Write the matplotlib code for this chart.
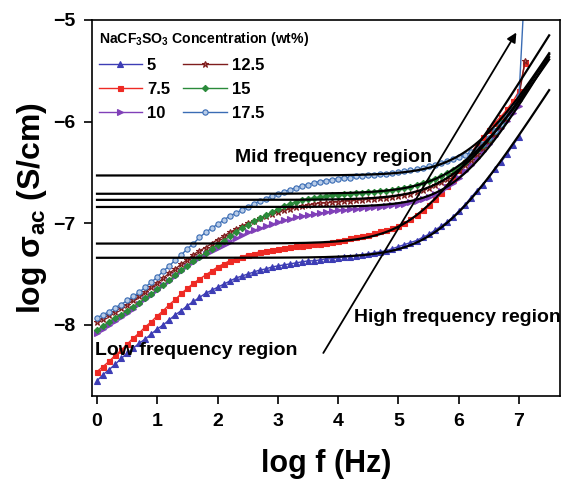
import numpy as np
import matplotlib
matplotlib.use('Agg')
import matplotlib.pyplot as plt

plt.rcParams['font.family'] = ['Liberation Sans', 'DejaVu Sans']
plt.rcParams['font.weight'] = 'bold'
plt.rcParams['mathtext.fontset'] = 'custom'
plt.rcParams['mathtext.rm'] = 'Liberation Sans:bold'
plt.rcParams['mathtext.it'] = 'Liberation Sans:bold'
plt.rcParams['mathtext.bf'] = 'Liberation Sans:bold'
plt.rcParams['mathtext.default'] = 'rm'

# measured frequencies, log f (Hz)
log_f = np.round(np.arange(0, 7.15, 0.1), 1)

# log sigma_ac (S/cm) for each salt concentration
s_5 = [-8.55, -8.49, -8.44, -8.39, -8.33, -8.28, -8.23, -8.18, -8.14, -8.09,
       -8.04, -8.00, -7.95, -7.90, -7.86, -7.81, -7.77, -7.73, -7.69, -7.66,
       -7.63, -7.60, -7.57, -7.54, -7.52, -7.50, -7.48, -7.46, -7.45, -7.43,
       -7.42, -7.41, -7.40, -7.39, -7.38, -7.37, -7.37, -7.36, -7.35, -7.35,
       -7.34, -7.33, -7.33, -7.32, -7.31, -7.30, -7.29, -7.28, -7.27, -7.25,
       -7.23, -7.21, -7.19, -7.17, -7.14, -7.11, -7.07, -7.03, -6.99, -6.94,
       -6.88, -6.82, -6.75, -6.68, -6.62, -6.55, -6.47, -6.40, -6.32, -6.23,
       -6.15]
s_7_5 = [-8.46, -8.41, -8.36, -8.30, -8.25, -8.19, -8.13, -8.08, -8.02, -7.97,
         -7.91, -7.86, -7.80, -7.75, -7.69, -7.64, -7.59, -7.55, -7.51, -7.47,
         -7.43, -7.40, -7.37, -7.35, -7.33, -7.31, -7.30, -7.28, -7.27, -7.26,
         -7.25, -7.24, -7.23, -7.22, -7.22, -7.21, -7.20, -7.20, -7.19, -7.18,
         -7.17, -7.16, -7.15, -7.14, -7.13, -7.12, -7.10, -7.08, -7.07, -7.05,
         -7.03, -7.00, -6.96, -6.92, -6.87, -6.82, -6.76, -6.70, -6.63, -6.56,
         -6.48, -6.40, -6.31, -6.23, -6.15, -6.08, -6.01, -5.95, -5.88, -5.80,
         -5.70, -5.42]
s_10 = [-8.08, -8.04, -8.00, -7.96, -7.92, -7.88, -7.84, -7.79, -7.75, -7.71,
        -7.66, -7.61, -7.57, -7.52, -7.47, -7.42, -7.38, -7.34, -7.30, -7.27,
        -7.24, -7.21, -7.18, -7.15, -7.12, -7.09, -7.07, -7.05, -7.03, -7.01,
        -6.99, -6.97, -6.96, -6.94, -6.93, -6.92, -6.91, -6.90, -6.89, -6.88,
        -6.87, -6.87, -6.86, -6.86, -6.85, -6.85, -6.84, -6.84, -6.83, -6.82,
        -6.82, -6.81, -6.79, -6.78, -6.76, -6.74, -6.71, -6.68, -6.64, -6.60,
        -6.55, -6.49, -6.43, -6.36, -6.29, -6.22, -6.14, -6.06, -5.99, -5.92,
        -5.85]
s_12_5 = [-7.97, -7.94, -7.90, -7.87, -7.83, -7.80, -7.76, -7.72, -7.68, -7.63,
          -7.59, -7.54, -7.49, -7.45, -7.40, -7.36, -7.31, -7.27, -7.24, -7.20,
          -7.16, -7.13, -7.09, -7.06, -7.03, -7.00, -6.98, -6.95, -6.93, -6.91,
          -6.89, -6.87, -6.86, -6.84, -6.83, -6.82, -6.81, -6.80, -6.80, -6.79,
          -6.79, -6.78, -6.78, -6.77, -6.77, -6.76, -6.76, -6.75, -6.75, -6.74,
          -6.73, -6.72, -6.71, -6.69, -6.67, -6.65, -6.62, -6.59, -6.56, -6.52,
          -6.48, -6.43, -6.38, -6.32, -6.26, -6.19, -6.12, -6.04, -5.96, -5.86,
          -5.75, -5.40]
s_15 = [-8.05, -8.01, -7.97, -7.93, -7.90, -7.86, -7.82, -7.78, -7.74, -7.70,
        -7.65, -7.61, -7.56, -7.51, -7.46, -7.42, -7.37, -7.33, -7.29, -7.25,
        -7.21, -7.17, -7.13, -7.09, -7.05, -7.02, -6.98, -6.95, -6.92, -6.89,
        -6.86, -6.83, -6.81, -6.79, -6.77, -6.76, -6.75, -6.74, -6.73, -6.72,
        -6.72, -6.71, -6.71, -6.70, -6.70, -6.69, -6.69, -6.68, -6.68, -6.67,
        -6.66, -6.65, -6.64, -6.62, -6.60, -6.58, -6.56, -6.54, -6.51, -6.48,
        -6.45, -6.40, -6.34, -6.28, -6.23, -6.17, -6.09, -6.01, -5.94, -5.86,
        -5.79]
s_17_5 = [-7.93, -7.90, -7.87, -7.83, -7.80, -7.76, -7.72, -7.68, -7.63, -7.58,
          -7.53, -7.47, -7.42, -7.36, -7.31, -7.25, -7.20, -7.14, -7.09, -7.05,
          -7.01, -6.97, -6.93, -6.90, -6.87, -6.84, -6.81, -6.78, -6.76, -6.73,
          -6.71, -6.69, -6.67, -6.65, -6.63, -6.62, -6.60, -6.59, -6.58, -6.57,
          -6.56, -6.55, -6.55, -6.54, -6.54, -6.53, -6.53, -6.52, -6.52, -6.51,
          -6.50, -6.49, -6.48, -6.47, -6.46, -6.44, -6.43, -6.41, -6.39, -6.37,
          -6.35, -6.33, -6.30, -6.27, -6.22, -6.16, -6.09, -6.02, -5.94, -5.85,
          -5.75, -4.60]

labels = ['5', '7.5', '10', '12.5', '15', '17.5']
series = [s_5, s_7_5, s_10, s_12_5, s_15, s_17_5]
colors = ['#3d3db5', '#ee2a24', '#8040b8', '#7f1d1d', '#2a8a3a', '#3a6cb4']
markers = ['^', 's', '>', '*', 'D', 'o']
mfcs = ['#3d3db5', '#ee2a24', '#8040b8', '#b06060', '#2a8a3a', '#b8cce8']
sizes = [3.8, 3.6, 3.8, 5.0, 3.2, 3.8]

# Jonscher power law fits: log sigma_dc, log A, n
fit_log_dc = [-7.34, -7.20, -6.84, -6.77, -6.71, -6.53]
fit_log_A = [-12.60, -12.28, -12.88, -12.48, -12.16, -12.48]
fit_n = [0.92, 0.95, 1.00, 0.95, 0.90, 0.95]

fig = plt.figure(figsize=(5.61, 4.8), dpi=100)
ax = fig.add_axes([92 / 561, 84 / 480, 468 / 561, 376 / 480])

for y, lab, c, m, mfc, ms in zip(series, labels, colors, markers, mfcs, sizes):
    ax.plot(log_f[:len(y)], y, color=c, marker=m, ms=ms, mfc=mfc, mec=c,
            mew=0.8, lw=1.0, label=lab)

xf = np.linspace(0, 7.5, 400)
for dc, la, n in zip(fit_log_dc, fit_log_A, fit_n):
    yf = np.log10(10 ** dc + 10 ** (la + n * xf))
    ax.plot(xf, yf, color='black', lw=1.6, zorder=5)

ax.annotate('', xy=(6.98, -5.10), xytext=(3.73, -8.30),
            arrowprops=dict(arrowstyle='-|>', color='black', lw=1.3,
                            mutation_scale=14), zorder=6)

ax.text(2.29, -6.35, 'Mid frequency region', fontsize=14, fontweight='bold',
        va='center', ha='left')
ax.text(-0.03, -8.25, 'Low frequency region', fontsize=14, fontweight='bold',
        va='center', ha='left')
ax.text(4.26, -7.93, 'High frequency region', fontsize=14, fontweight='bold',
        va='center', ha='left')

ax.set_xlim(-0.083, 7.68)
ax.set_ylim(-8.70, -5.0)
ax.set_xticks(range(0, 8))
ax.set_yticks([-8, -7, -6, -5])
ax.tick_params(direction='out', length=6, width=1.2, labelsize=14,
               top=False, right=False, pad=6)
for lb in ax.get_xticklabels() + ax.get_yticklabels():
    lb.set_fontweight('bold')
for sp in ax.spines.values():
    sp.set_linewidth(1.2)

ax.set_xlabel('log f (Hz)', fontsize=22, fontweight='bold', labelpad=14)
ax.set_ylabel('log σ$_{ac}$ (S/cm)', fontsize=23, fontweight='bold', labelpad=3)

leg = ax.legend(ncol=2, loc='upper left', bbox_to_anchor=(0.0, 0.99),
                frameon=False, fontsize=12, numpoints=1, handlelength=2.6,
                columnspacing=0.8, labelspacing=0.55, handletextpad=0.3,
                title='NaCF$_3$SO$_3$ Concentration (wt%)',
                title_fontproperties={'weight': 'bold', 'size': 10.1},
                alignment='left', borderaxespad=0.0)
for t in leg.get_texts():
    t.set_fontweight('bold')

fig.savefig('out.png', dpi=100)
